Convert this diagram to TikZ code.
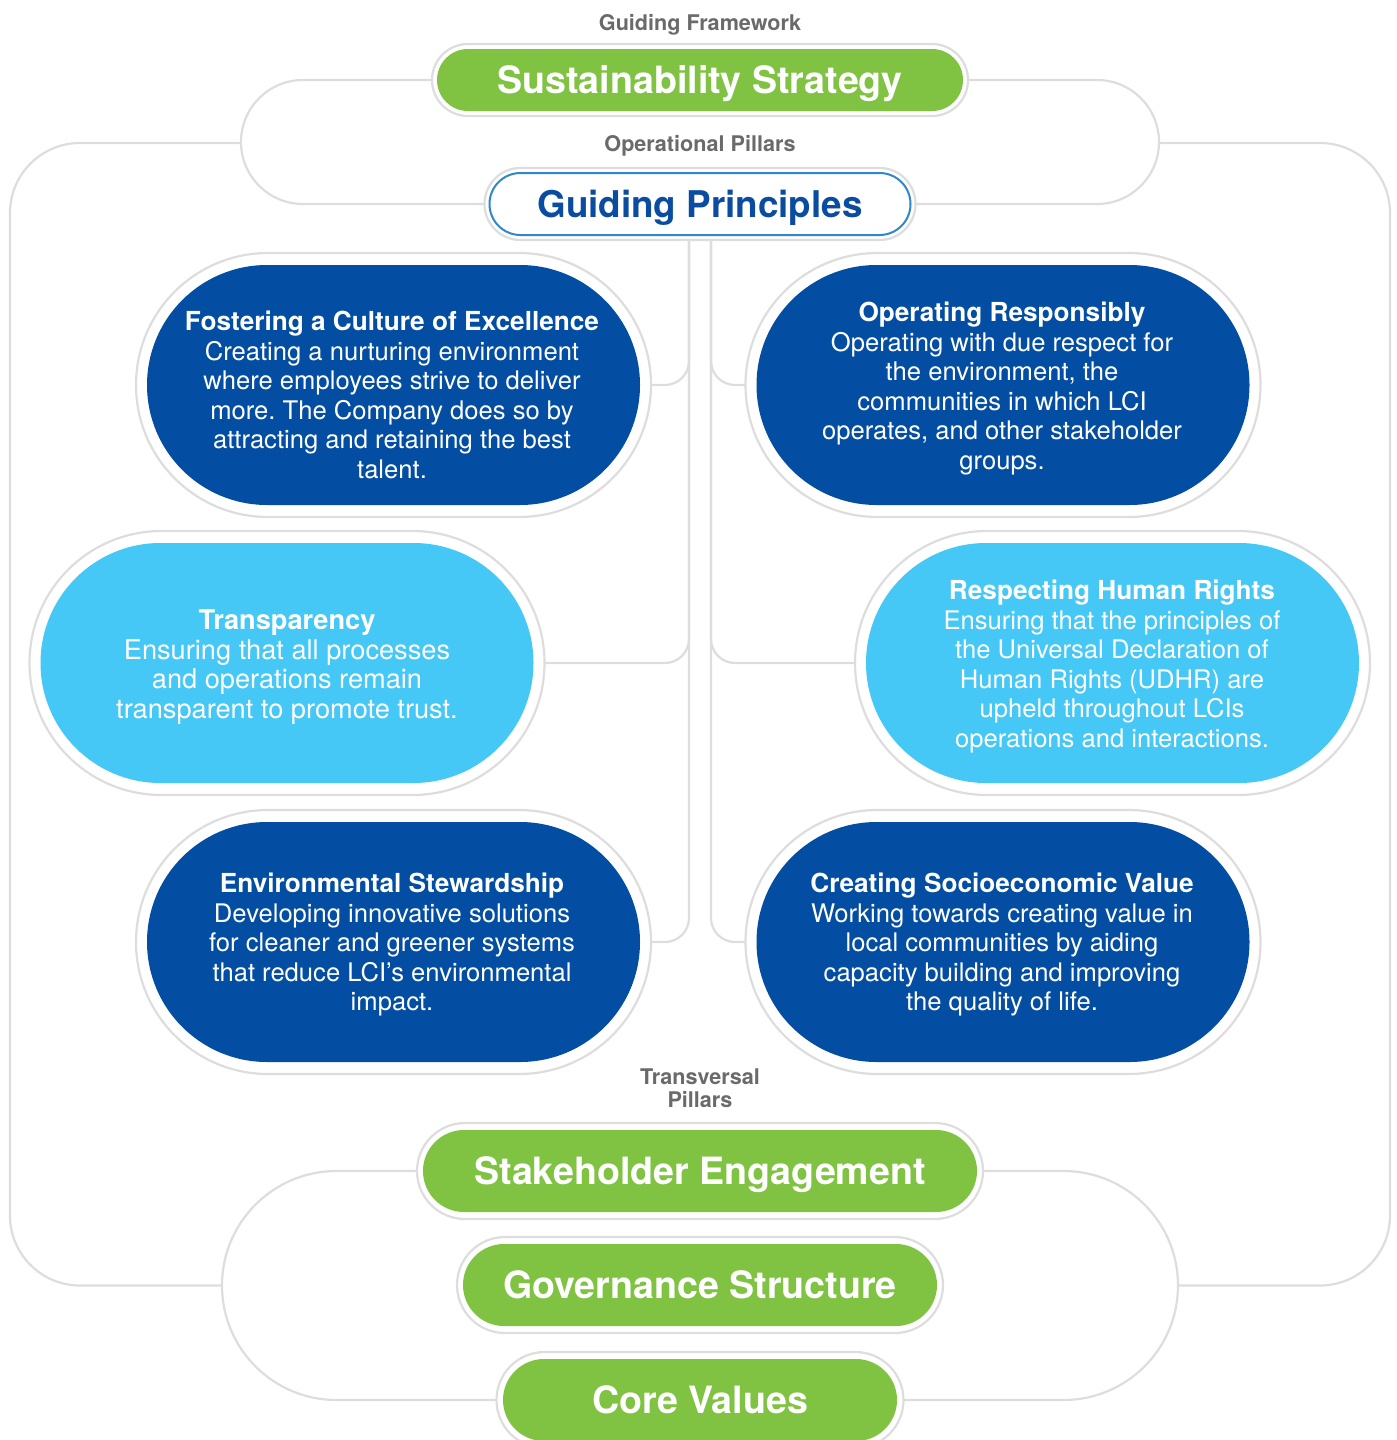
\documentclass[tikz,border=0pt]{standalone}
\usepackage{fontspec}
\setmainfont{TeX Gyre Heros}
\usetikzlibrary{calc}
\frenchspacing
\definecolor{dblue}{HTML}{034EA2}
\definecolor{lblue}{HTML}{45C8F5}
\definecolor{lgreen}{HTML}{80C242}
\definecolor{lgray}{HTML}{DDDDDD}
\definecolor{tgray}{HTML}{6A6A6A}
\definecolor{gpblue}{HTML}{0A4DA0}
\definecolor{gpborder}{HTML}{2F87D0}
\newcommand{\ttl}[1]{{\fontsize{13.1}{14.75}\selectfont\bfseries #1}}
\tikzset{
  conn/.style={draw=lgray, line width=1.1pt},
  pill/.style n args={3}{rectangle, inner sep=0pt, outer sep=0pt, minimum width=#1, minimum height=#2, rounded corners=#3},
  ring/.style={draw=lgray, line width=1.1pt, fill=white},
  lab/.style={text=tgray, font=\fontsize{10.8}{11.5}\selectfont\bfseries, inner sep=0pt, align=center},
  bigtext/.style={text=white, font=\fontsize{18.8}{22}\selectfont\bfseries, text height=13.5pt, text depth=0pt},
  pilltext/.style={text=white, align=center, inner sep=0pt, font=\fontsize{12.8}{14.75}\selectfont},
}
\begin{document}
\begin{tikzpicture}[x=0.5pt,y=-0.5pt]
\useasboundingbox (0,0) rectangle (1397,1440);

% top labels
\node[lab] (gf) at (700,25) {Guiding Framework};
\node[lab] (opl) at (700,146) {Operational Pillars};
\node[lab] (tpl) at (700,1088) {Transversal\\Pillars};

% Sustainability Strategy
\node[ring, pill={268pt}{36pt}{18pt}] (sustR) at (700,80) {};
\node[pill={263pt}{31pt}{15.5pt}, fill=lgreen, bigtext] (sust) at (700,80) {Sustainability Strategy};

% Guiding Principles
\node[ring, pill={215.5pt}{36pt}{18pt}] (gpR) at (700,204) {};
\node[pill={210.5pt}{31pt}{15.5pt}, fill=white, draw=gpborder, line width=1pt, text=gpblue, font=\fontsize{18.4}{22}\selectfont\bfseries, text height=13.2pt, text depth=0pt] (gp) at (700,204) {Guiding Principles};

% blue pills (rings and fills)
\node[ring, pill={257.5pt}{132pt}{66pt}] (fosR) at (393.5,385) {};
\node[pill={246.5pt}{120pt}{60pt}, fill=dblue] (fos) at (393.5,385) {};
\node[ring, pill={257.5pt}{132pt}{66pt}] (opR) at (1003,385) {};
\node[pill={246.5pt}{120pt}{60pt}, fill=dblue] (op) at (1003,385) {};
\node[ring, pill={257.5pt}{132pt}{66pt}] (traR) at (287,663) {};
\node[pill={246.5pt}{120pt}{60pt}, fill=lblue] (tra) at (287,663) {};
\node[ring, pill={257.5pt}{132pt}{66pt}] (resR) at (1112.5,663) {};
\node[pill={246.5pt}{120pt}{60pt}, fill=lblue] (res) at (1112.5,663) {};
\node[ring, pill={257.5pt}{132pt}{66pt}] (envR) at (393.5,942) {};
\node[pill={246.5pt}{120pt}{60pt}, fill=dblue] (env) at (393.5,942) {};
\node[ring, pill={257.5pt}{132pt}{66pt}] (creR) at (1003,942) {};
\node[pill={246.5pt}{120pt}{60pt}, fill=dblue] (cre) at (1003,942) {};

% pill texts
\node[pilltext] (fosT) at (392,395) {\ttl{Fostering a Culture of Excellence}\\Creating a nurturing environment\\where employees strive to deliver\\more. The Company does so by\\attracting and retaining the best\\talent.};
\node[pilltext] (opT) at (1002,388.5) {\ttl{Operating Responsibly}\\Operating with due respect for\\the environment, the\\communities in which LCI\\operates, and other stakeholder\\groups.};
\node[pilltext, font=\fontsize{13.6}{14.75}\selectfont] (traT) at (287,667) {{\bfseries Transparency}\\Ensuring that all processes\\and operations remain\\transparent to promote trust.};
\node[pilltext] (resT) at (1112,666.5) {\ttl{Respecting Human Rights}\\Ensuring that the principles of\\the Universal Declaration of\\Human Rights (UDHR) are\\upheld throughout LCIs\\operations and interactions.};
\node[pilltext] (envT) at (392,945) {\ttl{Environmental Stewardship}\\Developing innovative solutions\\for cleaner and greener systems\\that reduce LCI’s environmental\\impact.};
\node[pilltext] (creT) at (1002,945) {\ttl{Creating Socioeconomic Value}\\Working towards creating value in\\local communities by aiding\\capacity building and improving\\the quality of life.};

% green bottom pills
\node[ring, pill={283pt}{48pt}{24pt}] (stakeR) at (700,1171) {};
\node[pill={277pt}{41pt}{20.5pt}, fill=lgreen, bigtext] (stake) at (700,1171) {Stakeholder Engagement};
\node[ring, pill={243pt}{48pt}{24pt}] (govR) at (700,1285) {};
\node[pill={237pt}{41pt}{20.5pt}, fill=lgreen, bigtext] (gov) at (700,1285) {Governance Structure};
\node[ring, pill={203.5pt}{48pt}{24pt}] (coreR) at (700,1400) {};
\node[pill={197pt}{41pt}{20.5pt}, fill=lgreen, bigtext] (core) at (700,1400) {Core Values};

% loop coordinates
\coordinate (tl) at (241,143);
\coordinate (tr) at (1159,143);
\coordinate (bl) at (222,1285.5);
\coordinate (br) at (1178,1285.5);

% top loops
\draw[conn, rounded corners=31pt] (sustR.west) -- (241,80) -- (241,204) -- (gpR.west);
\draw[conn, rounded corners=31pt] (sustR.east) -- (1159,80) -- (1159,204) -- (gpR.east);
% outer frame
\draw[conn, rounded corners=35pt] (tl) -- (10,143) -- (10,1285.5) -- (bl);
\draw[conn, rounded corners=35pt] (tr) -- (1390,143) -- (1390,1285.5) -- (br);
% bottom loops
\draw[conn, rounded corners=57.25pt] (stakeR.west) -- (222,1171) -- (222,1400) -- (coreR.west);
\draw[conn, rounded corners=57.25pt] (stakeR.east) -- (1178,1171) -- (1178,1400) -- (coreR.east);

% spine
\draw[conn, rounded corners=12pt] ($(gpR.south)+(-11,0)$) |- (fosR.east);
\draw[conn, rounded corners=12pt] ($(gpR.south)+(-11,0)$) |- (traR.east);
\draw[conn, rounded corners=12pt] ($(gpR.south)+(-11,0)$) |- (envR.east);
\draw[conn, rounded corners=12pt] ($(gpR.south)+(11,0)$) |- (opR.west);
\draw[conn, rounded corners=12pt] ($(gpR.south)+(11,0)$) |- (resR.west);
\draw[conn, rounded corners=12pt] ($(gpR.south)+(11,0)$) |- (creR.west);
\end{tikzpicture}
\end{document}
